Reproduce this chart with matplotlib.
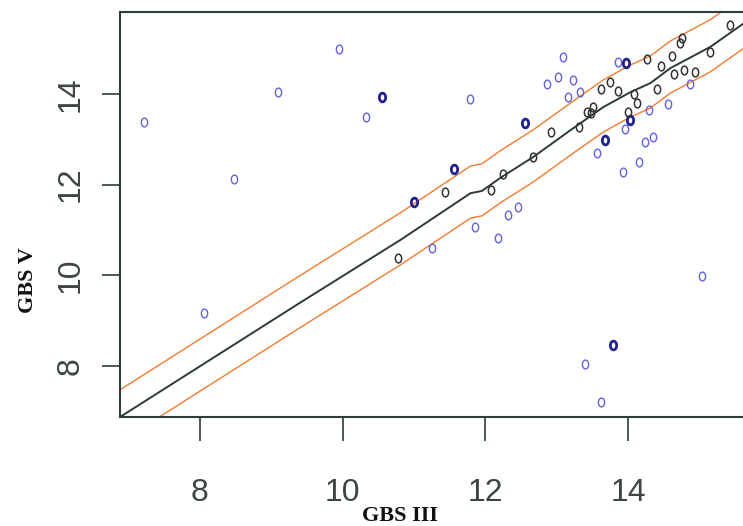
import numpy as np
import matplotlib
matplotlib.use("Agg")
import matplotlib.pyplot as plt
from matplotlib.path import Path
from matplotlib.transforms import Affine2D

# puntos fuera de la banda (azul claro)
blue_x = [7.21, 9.09, 9.95, 10.33, 8.48, 8.05, 11.79, 11.25, 11.85, 12.17, 12.31, 12.46,
          13.09, 12.86, 13.01, 13.22, 13.16, 13.33, 13.85, 13.56, 13.95, 14.29, 14.56,
          14.23, 14.35, 14.15, 13.93, 14.87, 15.04, 13.39, 13.62]
blue_y = [13.39, 14.05, 14.99, 13.49, 12.12, 9.16, 13.89, 10.61, 11.06, 10.82, 11.33, 11.50,
          14.82, 14.21, 14.38, 14.32, 13.93, 14.05, 14.71, 12.70, 13.22, 13.65, 13.77,
          12.93, 13.04, 12.49, 12.27, 14.22, 9.98, 8.03, 7.20]

# puntos repetidos / en el borde (azul oscuro)
dark_x = [10.55, 12.56, 11.56, 11.00, 13.97, 13.68, 14.03, 13.79]
dark_y = [13.93, 13.35, 12.35, 11.61, 14.68, 12.99, 13.42, 8.47]

# puntos dentro de la banda (negro)
black_x = [10.78, 11.44, 12.08, 12.24, 12.67, 12.92, 13.31, 13.42, 13.51, 13.48, 13.62,
           13.75, 13.86, 14.08, 14.12, 13.99, 14.27, 14.46, 14.62, 14.73, 14.75, 14.40,
           14.64, 14.78, 14.94, 15.15, 15.43]
black_y = [10.39, 11.84, 11.88, 12.24, 12.61, 13.16, 13.27, 13.61, 13.71, 13.58, 14.10,
           14.26, 14.07, 14.00, 13.80, 13.60, 14.78, 14.62, 14.83, 15.12, 15.24, 14.10,
           14.45, 14.54, 14.49, 14.93, 15.52]

# curva de ajuste y banda
fit_x = [6.88, 9.40, 10.81, 11.79, 11.95, 12.21, 12.67, 13.19, 13.65, 14.03, 14.31,
         14.59, 15.15, 15.70]
fit_y = [6.87, 9.39, 10.78, 11.81, 11.86, 12.15, 12.61, 13.20, 13.71, 14.04, 14.24,
         14.57, 15.04, 15.65]
band_up = 0.60
band_down = 0.55

ticks = [8, 10, 12, 14]

axis_col = "#2e3b3b"
tick_font = ["Liberation Sans Narrow", "Liberation Sans", "DejaVu Sans"]

oval = Path.unit_circle().transformed(Affine2D().scale(0.72, 1.0))

fig = plt.figure(figsize=(7.43, 5.26), dpi=100)
ax = fig.add_axes([120 / 743, (526 - 417) / 526, (746 - 120) / 743, (417 - 12) / 526])

fx = np.array(fit_x)
fy = np.array(fit_y)
ax.plot(fx, fy + band_up, color="#f57a30", lw=1.0, zorder=2)
ax.plot(fx, fy - band_down, color="#f57a30", lw=1.0, zorder=2)
ax.plot(fx, fy, color="#2c3a3a", lw=1.4, zorder=3)

ax.plot(blue_x, blue_y, ls="none", marker=oval, ms=6.3, mfc="none", mec="#6262d8", mew=1.0, zorder=4)
ax.plot(dark_x, dark_y, ls="none", marker=oval, ms=6.3, mfc="none", mec="#22228a", mew=2.0, zorder=4)
ax.plot(black_x, black_y, ls="none", marker=oval, ms=6.3, mfc="none", mec="#333333", mew=1.1, zorder=4)

ax.set_xlim(6.88, 15.65)
ax.set_ylim(6.87, 15.81)
ax.set_xticks(ticks)
ax.set_yticks(ticks)
ax.set_xticklabels([str(t) for t in ticks], family=tick_font, fontsize=23, color="#3c4444")
ax.set_yticklabels([str(t) for t in ticks], family=tick_font, fontsize=23, color="#3c4444",
                   rotation=90, va="center")
ax.tick_params(axis="x", length=17, width=1.2, pad=27, color=axis_col)
ax.tick_params(axis="y", length=13, width=1.2, pad=12, color=axis_col)

for side in ["left", "bottom", "top"]:
    ax.spines[side].set_color(axis_col)
    ax.spines[side].set_linewidth(1.5)
ax.spines["right"].set_visible(False)

fig.text(28 / 743, 1 - 280 / 526, "GBS V", family="Liberation Serif", fontweight="bold",
         fontsize=16, rotation=90, ha="center", va="center", color="#111111")
fig.text(400 / 743, 1 - 516 / 526, "GBS III", family="Liberation Serif", fontweight="bold",
         fontsize=16, ha="center", va="center", color="#111111")

fig.savefig("out.png", dpi=100)
